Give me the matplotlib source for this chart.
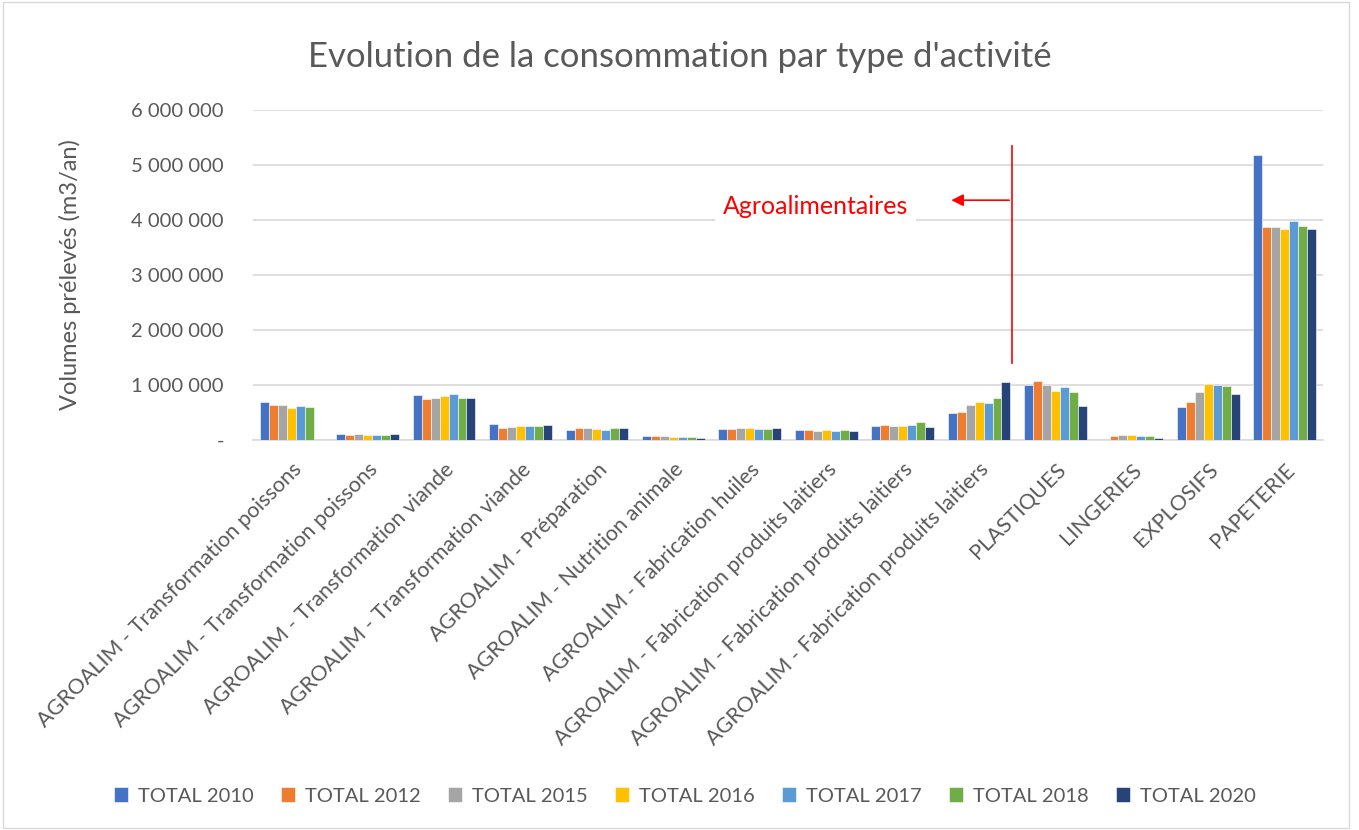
import numpy as np
import matplotlib.pyplot as plt
from matplotlib.ticker import FuncFormatter
from matplotlib.patches import Rectangle

plt.rcParams['font.family'] = ['Lato', 'DejaVu Sans']

categories = ['AGROALIM - Transformation poissons', 'AGROALIM - Transformation poissons',
              'AGROALIM - Transformation viande', 'AGROALIM - Transformation viande',
              'AGROALIM - Préparation', 'AGROALIM - Nutrition animale',
              'AGROALIM - Fabrication huiles', 'AGROALIM - Fabrication produits laitiers',
              'AGROALIM - Fabrication produits laitiers', 'AGROALIM - Fabrication produits laitiers',
              'PLASTIQUES', 'LINGERIES', 'EXPLOSIFS', 'PAPETERIE']
series = ['TOTAL 2010', 'TOTAL 2012', 'TOTAL 2015', 'TOTAL 2016', 'TOTAL 2017', 'TOTAL 2018', 'TOTAL 2020']

# volumes in m3/an, one list per year
total_2010 = [683000, 116000, 820000, 290000, 190000, 80000, 200000, 180000, 260000, 500000, 1006000, 0, 600000, 5180000]
total_2012 = [640000, 85000, 750000, 210000, 210000, 73000, 195000, 190000, 264000, 515000, 1070000, 74000, 700000, 3880000]
total_2015 = [640000, 110000, 760000, 240000, 210000, 67000, 210000, 165000, 250000, 640000, 1000000, 92000, 880000, 3870000]
total_2016 = [580000, 98000, 800000, 260000, 195000, 60000, 225000, 190000, 260000, 700000, 900000, 92000, 1010000, 3840000]
total_2017 = [610000, 98000, 840000, 256000, 190000, 60000, 195000, 170000, 280000, 670000, 960000, 74000, 1000000, 3975000]
total_2018 = [600000, 90000, 770000, 260000, 210000, 60000, 200000, 180000, 330000, 770000, 880000, 67000, 990000, 3885000]
total_2020 = [0, 116000, 770000, 270000, 210000, 43000, 210000, 170000, 240000, 1050000, 610000, 37000, 830000, 3840000]
values = [total_2010, total_2012, total_2015, total_2016, total_2017, total_2018, total_2020]

colors = ['#4472C4', '#ED7D31', '#A5A5A5', '#FFC000', '#5B9BD5', '#70AD47', '#264478']

fig = plt.figure(figsize=(13.59, 8.30), dpi=100)
ax = fig.add_axes([253/1359, 1-440/830, 1070/1359, 330/830])

x = np.arange(len(categories))
w = 0.82 / len(series)
for i, (name, vals) in enumerate(zip(series, values)):
    ax.bar(x + (i - 3) * w, vals, w, color=colors[i], label=name,
           edgecolor='white', linewidth=0.4, zorder=3)

ax.set_xlim(-0.5, len(categories) - 0.5)
ax.set_ylim(0, 6000000)
ax.set_yticks(np.arange(0, 6000001, 1000000))
ax.yaxis.set_major_formatter(FuncFormatter(lambda v, p: '-' if v == 0 else f'{int(v):,}'.replace(',', ' ')))
ax.grid(axis='y', color='#D9D9D9', linewidth=1.2, zorder=0)
ax.set_xticks(x)
ax.set_xticklabels(categories, rotation=45, ha='right', rotation_mode='anchor')
ax.tick_params(axis='x', length=0, labelsize=15.5, colors='#595959', pad=14)
ax.tick_params(axis='y', length=0, labelsize=14.6, colors='#595959', pad=21)
for s in ['top', 'right', 'left']:
    ax.spines[s].set_visible(False)
ax.spines['bottom'].set_color('#D9D9D9')
ax.spines['bottom'].set_linewidth(1.2)
ax.set_ylabel('Volumes prélevés (m3/an)', fontsize=17, color='#595959', labelpad=36)

fig.text(0.5, 1 - 57/830, "Evolution de la consommation par type d'activité",
         ha='center', va='center', fontsize=25, color='#595959')

# annotation: Agroalimentaires boundary
ax.plot([9.43, 9.43], [1400000, 5350000], color='red', linewidth=1.2, zorder=4)
ax.annotate('', xy=(8.6, 4360000), xytext=(9.43, 4360000),
            arrowprops=dict(arrowstyle='-|>', color='red', lw=1.2, mutation_scale=18), zorder=4)
ax.text(6.86, 4240000, 'Agroalimentaires', color='red', fontsize=18, ha='center', va='center', zorder=4,
        bbox=dict(facecolor='white', edgecolor='none', pad=6))

fig.legend(loc='center', bbox_to_anchor=(0.504, 1 - 796/830), ncol=7, frameon=False,
           fontsize=14.5, handlelength=0.7, handleheight=0.7, columnspacing=1.35,
           handletextpad=0.5, labelcolor='#595959')

fig.patches.append(Rectangle((0.002, 0.002), 0.991, 0.995, transform=fig.transFigure,
                             fill=False, edgecolor='#D9D9D9', linewidth=1))

fig.savefig('out.png', dpi=100)
